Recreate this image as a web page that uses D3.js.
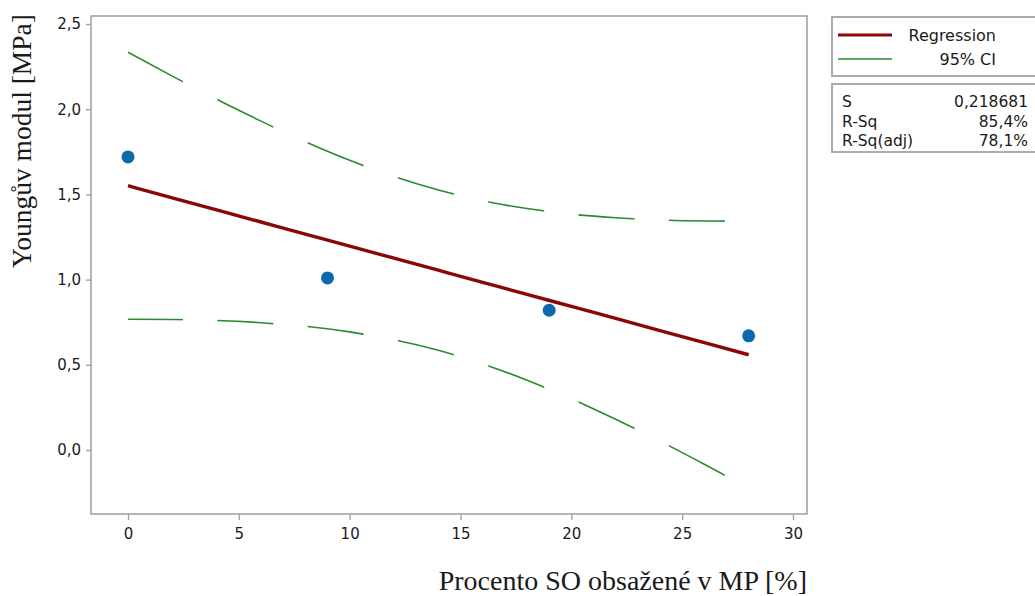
<!DOCTYPE html>
<html>
<head>
<meta charset="utf-8">
<script src="https://cdn.jsdelivr.net/npm/d3@7"></script>
<style>
  html, body { margin: 0; padding: 0; background: #fff; }
  svg { display: block; }
</style>
</head>
<body>
<svg id="chart" width="1035" height="596"></svg>
<script>
// ---- Data ----
const pointX = [0, 9, 19, 28];
const pointY = [1.72, 1.01, 0.82, 0.67];

const fitX     = [0, 2, 4, 6, 8, 10, 12, 14, 16, 18, 20, 22, 24, 26, 28];
const fitY     = [1.551, 1.480, 1.409, 1.338, 1.267, 1.197, 1.126, 1.055, 0.984, 0.913, 0.843, 0.772, 0.701, 0.630, 0.559];
const ciUpper  = [2.334, 2.194, 2.058, 1.930, 1.809, 1.700, 1.605, 1.526, 1.463, 1.417, 1.384, 1.363, 1.350, 1.344, 1.343];
const ciLower  = [0.767, 0.766, 0.760, 0.747, 0.726, 0.693, 0.647, 0.585, 0.505, 0.410, 0.301, 0.180, 0.052, -0.084, -0.224];

const xTicks = [0, 5, 10, 15, 20, 25, 30];
const yTicks = [0, 0.5, 1.0, 1.5, 2.0, 2.5];

const legendLabels = ["Regression", "95% CI"];
const statNames  = ["S", "R-Sq", "R-Sq(adj)"];
const statValues = ["0,218681", "85,4%", "78,1%"];

const xTitle = "Procento SO obsažené v MP [%]";
const yTitle = "Youngův modul [MPa]";

// ---- Layout ----
const svg = d3.select("#chart");
const frame = { left: 91, top: 16, right: 807, bottom: 514 };
const x = d3.scaleLinear().domain([0, 30]).range([128, 793]);
const y = d3.scaleLinear().domain([0, 2.5]).range([450, 24]);

const gray = "#a3a3a3";
const textColor = "#1a1a1a";
const sansFont = "'DejaVu Sans', 'Open Sans', sans-serif";
const serif = "'Liberation Serif', 'Times New Roman', serif";
const fmt = d => d3.format(".1f")(d).replace(".", ",");

// frame
svg.append("rect")
  .attr("x", frame.left).attr("y", frame.top)
  .attr("width", frame.right - frame.left).attr("height", frame.bottom - frame.top)
  .attr("fill", "none").attr("stroke", gray).attr("stroke-width", 1.6);

// axes
const xAxis = d3.axisBottom(x).tickValues(xTicks).tickSize(6).tickPadding(8).tickFormat(d3.format("d"));
const gx = svg.append("g").attr("transform", `translate(0,${frame.bottom})`).call(xAxis);
const yAxis = d3.axisLeft(y).tickValues(yTicks).tickSize(5).tickPadding(5).tickFormat(fmt);
const gy = svg.append("g").attr("transform", `translate(${frame.left},0)`).call(yAxis);
[gx, gy].forEach(g => {
  g.select(".domain").remove();
  g.selectAll(".tick line").attr("stroke", gray).attr("stroke-width", 1.4);
  g.selectAll(".tick text").attr("fill", textColor)
    .style("font-family", sansFont).style("font-size", "15px");
});

// axis titles
svg.append("text")
  .attr("x", 807).attr("y", 590)
  .attr("text-anchor", "end")
  .style("font-family", serif)
  .style("font-size", "28px").attr("fill", textColor)
  .text(xTitle);
svg.append("text")
  .attr("transform", "translate(31,141) rotate(-90)")
  .attr("text-anchor", "middle")
  .style("font-family", serif)
  .style("font-size", "27.5px").attr("fill", textColor)
  .text(yTitle);

// dash stripes clip (Minitab-style dashes, fixed x-extent)
const defs = svg.append("defs");
const clip = defs.append("clipPath").attr("id", "dashclip");
const period = 90.3, dashLen = 56;
for (let k = 0; k < 8; k++) {
  clip.append("rect")
    .attr("x", x(0) - 1 + k * period).attr("y", 0)
    .attr("width", dashLen).attr("height", 596);
}

const line = d3.line().curve(d3.curveMonotoneX);

const ciColor = "#2b8a2b";
[ciUpper, ciLower].forEach(arr => {
  svg.append("path")
    .attr("d", line(fitX.map((d, i) => [x(d), y(arr[i])])))
    .attr("fill", "none").attr("stroke", ciColor).attr("stroke-width", 1.6)
    .attr("clip-path", "url(#dashclip)");
});

// regression line
svg.append("path")
  .attr("d", line(fitX.map((d, i) => [x(d), y(fitY[i])])))
  .attr("fill", "none").attr("stroke", "#8b0606").attr("stroke-width", 3.4);

// points
svg.selectAll("circle.pt").data(pointX).enter().append("circle")
  .attr("class", "pt")
  .attr("cx", d => x(d))
  .attr("cy", (d, i) => y(pointY[i]))
  .attr("r", 6.5)
  .attr("fill", "#0b69ad");

// legend box 1
svg.append("rect").attr("x", 832).attr("y", 17).attr("width", 210).attr("height", 59)
  .attr("fill", "#fff").attr("stroke", gray).attr("stroke-width", 1.8);
const legColors = ["#8b0606", ciColor];
const legWidths = [3.2, 1.6];
const legY = [35, 59];
legendLabels.forEach((lab, i) => {
  svg.append("line").attr("x1", 838).attr("x2", 892).attr("y1", legY[i]).attr("y2", legY[i])
    .attr("stroke", legColors[i]).attr("stroke-width", legWidths[i]);
  svg.append("text").attr("x", 996).attr("y", legY[i]).attr("dy", "0.35em")
    .attr("text-anchor", "end").attr("fill", textColor)
    .style("font-family", sansFont).style("font-size", "16px").text(lab);
});

// legend box 2 (stats)
svg.append("rect").attr("x", 832).attr("y", 84).attr("width", 210).attr("height", 68)
  .attr("fill", "#fff").attr("stroke", gray).attr("stroke-width", 1.8);
const statY = [102, 121.5, 141];
statNames.forEach((nm, i) => {
  svg.append("text").attr("x", 842).attr("y", statY[i]).attr("dy", "0.35em")
    .attr("fill", textColor).style("font-family", sansFont).style("font-size", "15.5px").text(nm);
  svg.append("text").attr("x", 1028).attr("y", statY[i]).attr("dy", "0.35em")
    .attr("text-anchor", "end")
    .attr("fill", textColor).style("font-family", sansFont).style("font-size", "15.5px").text(statValues[i]);
});
</script>
</body>
</html>
